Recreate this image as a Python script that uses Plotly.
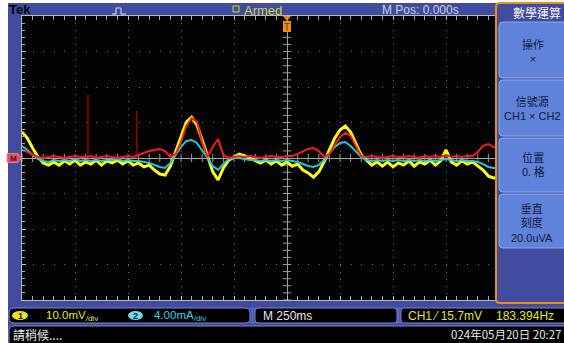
import numpy as np
import plotly.graph_objects as go

# ---- acquisition settings (also shown in the readouts) ----
TIME_PER_DIV_MS = 250
CH1_MV_PER_DIV = 10.0
CH2_MA_PER_DIV = 4.0
MATH_UVA_PER_DIV = 20.0
H_DIVS = 10
V_DIVS = 8

# ---- record: sample times relative to the trigger (ms) ----
time_ms = list(range(-1250, 1251, 25))

# CH1 voltage (mV)
ch1_mv = [
    7.3, 5.6, 2.8, 0.3, -1.4, -2.0, -1.1, -2.0, -0.8, -1.7,
    -0.6, -2.0, -1.1, -1.7, -0.6, -2.0, -0.8, -1.4, -0.6, -1.7,
    -0.8, -2.0, -1.4, -2.5, -2.0, -3.4, -4.5, -4.8, -2.3, 1.7,
    6.2, 10.1, 11.5, 9.3, 5.1, 0.8, -3.9, -6.2, -2.8, -0.6,
    0.3, 1.1, 0.6, 0.0, -0.6, -1.4, -0.6, -1.7, -0.8, -2.0,
    -1.1, -2.3, -1.7, -3.4, -4.2, -5.4, -3.9, -1.1, 2.3, 5.6,
    7.9, 9.0, 7.3, 3.9, 0.8, -0.6, -2.0, -1.1, -2.3, -1.1,
    -2.5, -1.4, -2.0, -0.8, -2.3, -1.1, -1.7, -0.6, -2.0, -0.8,
    2.3, -1.1, -2.0, -0.8, -1.7, -1.1, -2.3, -3.4, -5.1, -5.6,
    -5.6, -4.8, -3.4, -2.3, -1.4, -2.0, -1.1, -1.7, -0.8, -1.7, -1.1,
]

# CH2 current (mA)
ch2_ma = [
    1.35, 0.90, 0.34, -0.11, -0.34, -0.45, -0.23, -0.34, -0.23, -0.34,
    -0.11, -0.34, -0.23, -0.34, -0.23, -0.34, -0.23, -0.23, -0.11, -0.34,
    -0.23, -0.34, -0.34, -0.45, -0.56, -0.79, -1.01, -1.13, -0.56, 0.34,
    1.24, 1.92, 2.03, 1.69, 0.90, 0.00, -0.90, -1.35, -0.68, -0.11,
    0.00, 0.00, -0.11, -0.23, -0.23, -0.34, -0.23, -0.34, -0.23, -0.34,
    -0.23, -0.34, -0.45, -0.68, -0.90, -1.01, -0.79, -0.23, 0.56, 1.24,
    1.69, 1.80, 1.35, 0.68, 0.11, -0.23, -0.34, -0.23, -0.34, -0.23,
    -0.34, -0.23, -0.34, -0.23, -0.34, -0.23, -0.34, -0.23, -0.34, -0.23,
    -0.11, -0.23, -0.34, -0.23, -0.34, -0.34, -0.45, -0.68, -1.01, -1.13,
    -1.13, -0.90, -0.68, -0.45, -0.34, -0.23, -0.34, -0.23, -0.34, -0.23, -0.34,
]

# Math waveform CH1 x CH2 (uVA)
math_uva = [
    4.5, 3.4, 1.7, 0.6, 0.0, 0.6, 1.1, 0.6, 0.0, 0.6,
    1.1, 0.6, 0.6, 1.1, 0.0, 0.6, 1.1, 0.6, 0.0, 0.6,
    1.1, 0.6, 1.7, 2.8, 3.9, 4.5, 5.1, 3.9, 0.6, 2.3,
    9.0, 18.0, 22.5, 20.3, 9.0, 0.6, 6.2, 10.7, 1.7, 0.0,
    0.6, 1.1, 0.6, 1.1, 0.6, 0.0, 0.6, 1.1, 0.6, 0.6,
    1.1, 1.1, 2.3, 3.9, 5.1, 5.6, 3.9, 0.6, 2.3, 7.3,
    11.8, 14.1, 12.4, 6.8, 1.1, 0.6, 1.1, 0.6, 0.0, 0.6,
    1.1, 0.6, 0.6, 1.1, 0.6, 0.0, 1.1, 0.6, 1.1, 0.6,
    1.7, 0.6, 1.1, 0.6, 1.1, 1.1, 3.4, 6.8, 7.9, 6.2,
    5.6, 3.9, 2.3, 1.1, 0.6, 1.1, 0.6, 1.1, 0.6, 1.1, 0.6,
]

# isolated glitches in the math record
glitch_ms = [-939, -708]
glitch_uva = [35.5, 26.5]
glitch_base_uva = 0.6

# ---- screen geometry (pixels) ----
W, H = 564, 343
L, R, T, B = 22, 12, 16, 43
PW, PH = W - L - R, H - T - B

BLUE = "#414b9f"
ORANGE = "#f08c10"
BTN = "#5f82da"
BTN_EDGE = "#90a8ee"
BTN_TXT = "#14183a"
YEL_TXT = "#e4e42c"
CYN_TXT = "#3ccfe0"
WHT_TXT = "#e6e6ea"
FONT = '"Liberation Sans", "Noto Sans CJK TC", sans-serif'
CJK = '"Noto Sans CJK TC", "Liberation Sans", sans-serif'


def fx(x):
    return (x - L) / PW


def fy(y):
    return (H - B - y) / PH


def pth(cmds):
    out = []
    for c in cmds:
        if c[0] == "Z":
            out.append("Z")
        elif c[0] == "Q":
            out.append(f"Q{fx(c[1])},{fy(c[2])} {fx(c[3])},{fy(c[4])}")
        else:
            out.append(f"{c[0]}{fx(c[1])},{fy(c[2])}")
    return " ".join(out)


def rrect(x0, y0, x1, y1, r):
    return pth([
        ("M", x0 + r, y0), ("L", x1 - r, y0), ("Q", x1, y0, x1, y0 + r),
        ("L", x1, y1 - r), ("Q", x1, y1, x1 - r, y1), ("L", x0 + r, y1),
        ("Q", x0, y1, x0, y1 - r), ("L", x0, y0 + r), ("Q", x0, y0, x0 + r, y0), ("Z",),
    ])


def shape_path(path, fill=None, line=None, lw=1, layer="above"):
    return dict(type="path", xref="paper", yref="paper", path=path,
                fillcolor=fill if fill else "rgba(0,0,0,0)",
                line=dict(color=line if line else "rgba(0,0,0,0)", width=lw if line else 0),
                layer=layer)


def box(x0, y0, x1, y1, fill, line=None, lw=1, kind="rect", layer="above"):
    return dict(type=kind, xref="paper", yref="paper",
                x0=fx(x0), x1=fx(x1), y0=fy(y1), y1=fy(y0),
                fillcolor=fill, line=dict(color=line if line else "rgba(0,0,0,0)", width=lw if line else 0),
                layer=layer)


def label(text, x, y, color, size=12, xanchor="left", family=FONT, align="center"):
    return dict(text=text, x=fx(x), y=fy(y), xref="paper", yref="paper",
                xanchor=xanchor, yanchor="middle", showarrow=False, align=align,
                font=dict(color=color, size=size, family=family))


fig = go.Figure()

# center-cross minor ticks
half_v = V_DIVS / 2 * CH1_MV_PER_DIV
half_t = H_DIVS / 2 * TIME_PER_DIV_MS
cross_v = [v for v in np.arange(-half_v, half_v + 0.01, CH1_MV_PER_DIV / 5) if abs(v) > 1e-6]
cross_t = [t for t in np.arange(-half_t, half_t + 0.01, TIME_PER_DIV_MS / 5) if abs(t) > 1e-6]
fig.add_trace(go.Scatter(x=[0] * len(cross_v), y=cross_v, mode="markers", hoverinfo="skip",
                         marker=dict(symbol="line-ew", size=6, line=dict(color="#9a9a9a", width=1))))
fig.add_trace(go.Scatter(x=cross_t, y=[0] * len(cross_t), mode="markers", hoverinfo="skip",
                         marker=dict(symbol="line-ns", size=6, line=dict(color="#9a9a9a", width=1))))

# waveforms
fig.add_trace(go.Scatter(x=time_ms, y=ch2_ma, yaxis="y2", mode="lines", name="CH2",
                         line=dict(color="#20c8d8", width=2)))
fig.add_trace(go.Scatter(x=time_ms, y=ch1_mv, yaxis="y", mode="lines", name="CH1",
                         line=dict(color="#ffff10", width=3)))
gx, gy = [], []
for tm, val in zip(glitch_ms, glitch_uva):
    gx += [tm, tm, None]
    gy += [glitch_base_uva, val, None]
fig.add_trace(go.Scatter(x=gx, y=gy, yaxis="y3", mode="lines", name="glitch",
                         line=dict(color="#b00000", width=1.3)))
fig.add_trace(go.Scatter(x=time_ms, y=math_uva, yaxis="y3", mode="lines", name="MATH",
                         line=dict(color="#ff1a1a", width=2)))

axis_common = dict(showticklabels=False, showline=True, linecolor="#b8b8b8", linewidth=1,
                   mirror="allticks", ticks="inside", ticklen=4, tickcolor="#c4c4c4", tickwidth=1,
                   showgrid=True, gridcolor="#707070", gridwidth=1,
                   zeroline=True, zerolinecolor="#a4a4a4", zerolinewidth=1, fixedrange=True)

fig.update_layout(
    width=W, height=H, autosize=False,
    margin=dict(l=L, r=R, t=T, b=B, pad=0, autoexpand=False),
    paper_bgcolor=BLUE, plot_bgcolor="#030303", showlegend=False,
    xaxis=dict(range=[-half_t, half_t], dtick=TIME_PER_DIV_MS, tick0=0,
               griddash=f"1px,{PH / V_DIVS / 5 - 1:.2f}px",
               minor=dict(dtick=TIME_PER_DIV_MS / 5, ticks="inside", ticklen=3,
                          tickcolor="#a8a8a8", showgrid=False),
               **axis_common),
    yaxis=dict(range=[-half_v, half_v], dtick=CH1_MV_PER_DIV, tick0=0,
               griddash=f"1px,{PW / H_DIVS / 5 - 1:.2f}px",
               minor=dict(dtick=CH1_MV_PER_DIV / 5, ticks="inside", ticklen=3,
                          tickcolor="#a8a8a8", showgrid=False),
               **axis_common),
    yaxis2=dict(range=[-V_DIVS / 2 * CH2_MA_PER_DIV, V_DIVS / 2 * CH2_MA_PER_DIV],
                overlaying="y", visible=False, fixedrange=True),
    yaxis3=dict(range=[-V_DIVS / 2 * MATH_UVA_PER_DIV, V_DIVS / 2 * MATH_UVA_PER_DIV],
                overlaying="y", visible=False, fixedrange=True),
)

shapes = [
    # white page edges
    box(0, 0, 8, H, "#ffffff", layer="below"),
    box(0, 0, W, 3, "#ffffff", layer="below"),
    # pulse icon
    shape_path(pth([("M", 112, 14), ("L", 116, 14), ("L", 116, 8), ("L", 121, 8),
                    ("L", 121, 14), ("L", 126, 14)]), line="#e4e4e4", lw=1),
    # armed indicator square
    box(233, 6, 239, 12, "rgba(0,0,0,0)", line="#d6d62c", lw=1),
    # trigger position marker
    shape_path(pth([("M", 283, 16), ("L", 291, 16), ("L", 287, 21), ("Z",)]), fill=ORANGE),
    box(283, 21, 291, 32, ORANGE),
    shape_path(pth([("M", 284.5, 23.5), ("L", 289.5, 23.5), ("M", 287, 23.5), ("L", 287, 30.5)]),
               line="#6a3a00", lw=1),
    # math reference marker
    shape_path(pth([("M", 7, 153.5), ("L", 18, 153.5), ("L", 22, 158), ("L", 18, 162.5), ("L", 7, 162.5), ("Z",)]),
               fill="#dc5262", line="#f08a96", lw=0.8),
    # side menu panel
    shape_path(pth([("M", W + 6, 3), ("L", 500, 3), ("Q", 496, 3, 496, 7), ("L", 496, 299),
                    ("Q", 496, 303, 500, 303), ("L", W + 6, 303), ("Z",)]),
               fill=BLUE, line=ORANGE, lw=2),
    # bottom readout bars
    shape_path(rrect(9, 308, 250, 323, 5), fill="#000000", line="#7d86c6"),
    shape_path(rrect(255, 308, 397, 323, 3), fill="#000000", line="#7d86c6"),
    shape_path(rrect(401, 308, W + 8, 323, 3), fill="#000000", line="#7d86c6"),
    shape_path(rrect(9, 326, W + 8, H + 8, 5), fill="#000000", line="#7d86c6"),
    shape_path(pth([("M", 249.5, 308.5), ("L", 255.5, 308.5), ("M", 252.5, 308.5), ("L", 252.5, 322.5),
                    ("M", 249.5, 322.5), ("L", 255.5, 322.5)]), line="#5d6dd0", lw=1.5),
    shape_path(pth([("M", 395.5, 308.5), ("L", 401.5, 308.5), ("M", 398.5, 308.5), ("L", 398.5, 322.5),
                    ("M", 395.5, 322.5), ("L", 401.5, 322.5)]), line="#5d6dd0", lw=1.5),
    # channel badges
    box(12, 311, 28, 320, "#efe21e", kind="circle"),
    box(128, 311, 143, 320, "#6fd8e8", kind="circle"),
]
# side menu buttons
for y0, y1 in [(22, 78), (80, 136), (138, 192), (194, 248)]:
    shapes.append(shape_path(rrect(499, y0, W + 8, y1, 4), fill=BTN, line=BTN_EDGE))

LAT = "<span style='font-family:Liberation Sans'>{}</span>"

annotations = [
    label("<b>Tek</b>", 7, 9.5, "#000000", size=13),
    label("Armed", 242, 10, "#d6d62c", size=13),
    label("M Pos: 0.000s", 380, 10, "#cfd0dc", size=12),
    label("數學運算", 537, 12, "#f2f2f2", size=12, xanchor="center", family=CJK),
    # side menu button captions
    label("操作<br>" + LAT.format("×"), 533, 51, BTN_TXT, size=11, xanchor="center", family=CJK),
    label("信號源<br>" + LAT.format("CH1 × CH2"), 532, 107, BTN_TXT, size=11, xanchor="center", family=CJK),
    label("位置<br>0. 格", 533, 164, BTN_TXT, size=11, xanchor="center", family=CJK),
    label("垂直<br>刻度<br>" + LAT.format("20.0uVA"), 532, 222, BTN_TXT, size=11, xanchor="center", family=CJK),
    label("<b>M</b>", 13.5, 158, "#5a0a12", size=8, xanchor="center"),
    label("<b>1</b>", 20, 315.5, "#1a1a00", size=9, xanchor="center"),
    label("<b>2</b>", 135.5, 315.5, "#002a30", size=9, xanchor="center"),
    label(f"{CH1_MV_PER_DIV:.1f}mV<sub>/div</sub>", 44, 316, YEL_TXT, size=11.5),
    label(f"{CH2_MA_PER_DIV:.2f}mA<sub>/div</sub>", 152, 316, CYN_TXT, size=11.5),
    label(f"M {TIME_PER_DIV_MS}ms", 261, 316, WHT_TXT, size=12),
    label("CH1 ⁄ 15.7mV", 406, 316, YEL_TXT, size=12),
    label("183.394Hz", 494, 316, YEL_TXT, size=12),
    label("請稍候....", 11, 334, WHT_TXT, size=12, family=CJK),
    label("024年05月20日 20:27", 563, 334, WHT_TXT, size=11.5, xanchor="right", family=CJK),
]

fig.update_layout(shapes=shapes, annotations=annotations)
fig.write_html("out.html", config={"displayModeBar": False})
